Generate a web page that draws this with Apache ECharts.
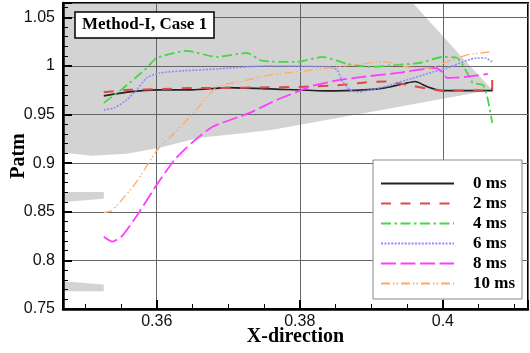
<!DOCTYPE html>
<html>
<head>
<meta charset="utf-8">
<script src="https://cdn.jsdelivr.net/npm/echarts@6/dist/echarts.min.js"></script>
<style>html,body{margin:0;padding:0;background:#fff;}#c{width:530px;height:353px;}</style>
</head>
<body>
<div id="c"></div>
<script>
// ---- data ----
const seriesNames = ['0 ms', '2 ms', '4 ms', '6 ms', '8 ms', '10 ms'];

const x0 = [0.3526, 0.3559, 0.3600, 0.3649, 0.3699, 0.3758, 0.3838, 0.3891, 0.3919, 0.3947, 0.3961, 0.3979, 0.3999, 0.4069, 0.4069];
const y0 = [0.9692, 0.9730, 0.9754, 0.9754, 0.9777, 0.9764, 0.9743, 0.9754, 0.9774, 0.9820, 0.9839, 0.9784, 0.9746, 0.9746, 0.9784];

const x2 = [0.3526, 0.3562, 0.3600, 0.3660, 0.3699, 0.3744, 0.3800, 0.3860, 0.3893, 0.3921, 0.3950, 0.3978, 0.4000, 0.4069, 0.4069];
const y2 = [0.9730, 0.9754, 0.9761, 0.9774, 0.9774, 0.9779, 0.9784, 0.9805, 0.9833, 0.9839, 0.9805, 0.9767, 0.9746, 0.9746, 0.9867];

const x4 = [0.3526, 0.3552, 0.3586, 0.3600, 0.3642, 0.3684, 0.3726, 0.3748, 0.3796, 0.3832, 0.3866, 0.3898, 0.3936, 0.3968, 0.4000, 0.4020, 0.4034, 0.4042, 0.4056, 0.4062, 0.4069];
const y4 = [0.9620, 0.9764, 0.9979, 1.0082, 1.0154, 1.0092, 1.0133, 1.0051, 1.0041, 1.0092, 1.0021, 0.9990, 1.0010, 1.0031, 1.0092, 1.0082, 0.9928, 0.9825, 0.9805, 0.9682, 0.9415];

const x6 = [0.3526, 0.3541, 0.3558, 0.3572, 0.3586, 0.3604, 0.3636, 0.3684, 0.3754, 0.3842, 0.3852, 0.3860, 0.3870, 0.3880, 0.3912, 0.3950, 0.3986, 0.4006, 0.4048, 0.4059, 0.4069];
const y6 = [0.9548, 0.9569, 0.9651, 0.9754, 0.9877, 0.9928, 0.9949, 0.9969, 1.0000, 0.9990, 0.9959, 0.9836, 0.9754, 0.9733, 0.9774, 0.9856, 0.9938, 0.9979, 1.0082, 1.0082, 1.0041];

const x8 = [0.3526, 0.3538, 0.3552, 0.3576, 0.3600, 0.3625, 0.3649, 0.3678, 0.3730, 0.3768, 0.3796, 0.3818, 0.3856, 0.3888, 0.3937, 0.3989, 0.3999, 0.4006, 0.4031, 0.4063];
const y8 = [0.8244, 0.8193, 0.8255, 0.8501, 0.8778, 0.9035, 0.9209, 0.9374, 0.9517, 0.9651, 0.9733, 0.9795, 0.9856, 0.9887, 0.9928, 0.9979, 0.9938, 0.9877, 0.9887, 0.9918];

const x10 = [0.3526, 0.3537, 0.3548, 0.3572, 0.3601, 0.3625, 0.3653, 0.3684, 0.3716, 0.3758, 0.3796, 0.3852, 0.3898, 0.3919, 0.3950, 0.3982, 0.4006, 0.4034, 0.4066];
const y10 = [0.8491, 0.8511, 0.8593, 0.8809, 0.9138, 0.9312, 0.9528, 0.9784, 0.9836, 0.9908, 0.9938, 0.9990, 1.0031, 1.0041, 0.9990, 0.9979, 1.0041, 1.0113, 1.0144];

// shaded (gray) regions, in data coordinates
const shadeMain = [[0.3469, 1.0647], [0.3958, 1.0647], [0.4038, 1.0000], [0.4069, 0.9754], [0.3891, 0.9517], [0.3762, 0.9343], [0.3726, 0.9312], [0.3660, 0.9261], [0.3604, 0.9158], [0.3558, 0.9097], [0.3510, 0.9076], [0.3469, 0.9107]];
const shadeWedge1 = [[0.3469, 0.8703], [0.3526, 0.8703], [0.3526, 0.8634], [0.3469, 0.8601]];
const shadeWedge2 = [[0.3469, 0.7785], [0.3526, 0.7751], [0.3526, 0.7683], [0.3469, 0.7683]];

// axes
const xMin = 0.3469, xMax = 0.4119;
const yMin = 0.75, yMax = 1.0647, yStep = 0.05;
const xTickLabels = ['0.36', '0.38', '0.4'];

// ---- chart ----
const zip = (xs, ys) => xs.map((x, i) => [x, ys[i]]);
const polys = [shadeMain, shadeWedge1, shadeWedge2];
const serif = 'Liberation Serif';
const sans = 'Liberation Sans';

const styles = [
  { color: '#222222', width: 1.6, type: 'solid' },
  { color: '#e04848', width: 2, type: [10, 9.5] },
  { color: '#44d844', width: 1.8, type: [10, 3.5, 2.5, 3.5] },
  { color: '#8c8cff', width: 1.6, type: [2, 1.4] },
  { color: '#ff3cff', width: 1.8, type: [15, 4.5] },
  { color: '#ffaa66', width: 1.3, type: [9, 3, 1.5, 2, 1.5, 3] }
];
const dataSets = [zip(x0, y0), zip(x2, y2), zip(x4, y4), zip(x6, y6), zip(x8, y8), zip(x10, y10)];

const lineSeries = seriesNames.map((n, i) => ({
  name: n,
  type: 'line',
  data: dataSets[i],
  symbol: 'none',
  smooth: 0.2,
  z: 3,
  color: styles[i].color,
  lineStyle: { color: styles[i].color, width: styles[i].width, type: styles[i].type }
}));

const shadeSeries = {
  type: 'custom',
  silent: true,
  z: -1,
  data: polys.map((p, i) => [0.37, 0.9, i]),
  encode: { x: 0, y: 1 },
  renderItem: function (params, api) {
    const poly = polys[api.value(2)];
    return {
      type: 'polygon',
      shape: { points: poly.map(p => api.coord(p)) },
      style: { fill: '#d3d3d3', stroke: null }
    };
  }
};

const chart = echarts.init(document.getElementById('c'), null, { renderer: 'canvas' });
chart.setOption({
  animation: false,
  backgroundColor: '#fff',
  title: {
    text: 'Method-I, Case 1',
    left: 75, top: 12,
    padding: [4, 7, 4, 7],
    backgroundColor: '#fff',
    borderColor: '#000',
    borderWidth: 1.5,
    textStyle: { fontFamily: serif, fontWeight: 'bold', fontSize: 17, color: '#000', lineHeight: 18 }
  },
  legend: {
    data: seriesNames,
    orient: 'vertical',
    left: 373, top: 160,
    padding: [15, 7, 7, 7],
    itemWidth: 73, itemHeight: 14, itemGap: 3,
    itemStyle: { opacity: 0 },
    backgroundColor: '#fff',
    borderColor: '#888',
    borderWidth: 1,
    textStyle: { fontFamily: serif, fontWeight: 'bold', fontSize: 17, color: '#000', lineHeight: 14, padding: [0, 0, 0, 14] }
  },
  grid: {
    left: 63, right: 2, top: 3, bottom: 44,
    containLabel: false,
    outerBoundsMode: 'none',
    show: true, borderColor: '#000', borderWidth: 2, backgroundColor: 'transparent'
  },
  xAxis: {
    type: 'value',
    min: xMin, max: xMax,
    splitNumber: 3,
    name: 'X-direction',
    nameLocation: 'middle',
    nameGap: 18,
    nameMoveOverlap: false,
    nameTextStyle: { fontFamily: serif, fontWeight: 'bold', fontSize: 20, color: '#000' },
    axisLine: { lineStyle: { color: '#000', width: 2.5 } },
    axisTick: { inside: true, length: 9, lineStyle: { color: '#000', width: 2 } },
    minorTick: { show: true, splitNumber: 4, length: 5, lineStyle: { color: '#000', width: 1 } },
    splitLine: { show: true, lineStyle: { color: '#666', width: 1 } },
    axisLabel: {
      margin: 5,
      fontFamily: sans, fontSize: 16, color: '#111',
      showMinLabel: false, showMaxLabel: false,
      formatter: function (v) {
        const s = String(parseFloat(v.toFixed(4)));
        return xTickLabels.indexOf(s) >= 0 ? s : '';
      }
    }
  },
  yAxis: {
    type: 'value',
    min: yMin, max: yMax, interval: yStep,
    name: 'Patm',
    nameLocation: 'middle',
    nameGap: 34,
    nameMoveOverlap: false,
    nameTextStyle: { fontFamily: serif, fontWeight: 'bold', fontSize: 20, color: '#000' },
    axisLine: { lineStyle: { color: '#000', width: 2.5 } },
    axisTick: { inside: true, length: 9, lineStyle: { color: '#000', width: 2 } },
    minorTick: { show: true, splitNumber: 5, length: 5, lineStyle: { color: '#000', width: 1 } },
    splitLine: { show: true, lineStyle: { color: '#666', width: 1 } },
    axisLabel: {
      margin: 8,
      fontFamily: sans, fontSize: 16, color: '#111',
      showMaxLabel: false,
      formatter: function (v) {
        const k = Math.round(v / yStep);
        if (Math.abs(v - k * yStep) > 1e-6) return '';
        return String(parseFloat((k * yStep).toFixed(2)));
      }
    }
  },
  series: [shadeSeries].concat(lineSeries)
});
</script>
</body>
</html>
